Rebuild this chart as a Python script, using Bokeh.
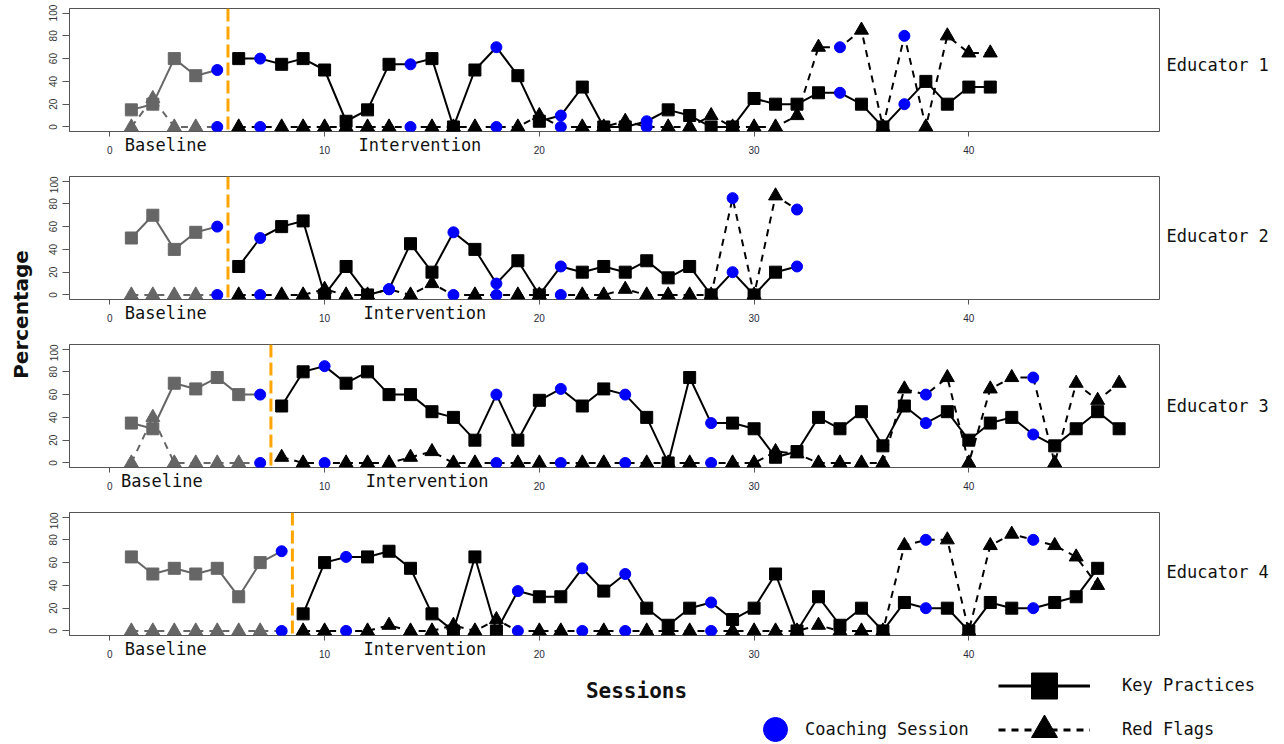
import numpy as np
from bokeh.plotting import figure
from bokeh.layouts import row, column
from bokeh.models import (ColumnDataSource, Span, Label, Legend, LegendItem,
                          FixedTicker, Range1d, LinearAxis)
from bokeh.embed import file_html
from bokeh.resources import INLINE

# ---------------- data ----------------
educator_names = ["Educator 1", "Educator 2", "Educator 3", "Educator 4"]

kp_edu1 = [15, 20, 60, 45, 50, 60, 60, 55, 60, 50, 5, 15, 55, 55, 60, 0, 50, 70, 45, 5,
           10, 35, 0, 0, 5, 15, 10, 0, 0, 25, 20, 20, 30, 30, 20, 0, 20, 40, 20, 35, 35]
rf_edu1 = [0, 25, 0, 0, 0, 0, 0, 0, 0, 0, 0, 0, 0, 0, 0, 0, 0, 0, 0, 10,
           0, 0, 0, 5, 0, 0, 0, 10, 0, 0, 0, 10, 70, 70, 85, 0, 80, 0, 80, 65, 65]
coach_edu1 = [5, 7, 14, 18, 21, 25, 34, 37]

kp_edu2 = [50, 70, 40, 55, 60, 25, 50, 60, 65, 0, 25, 0, 5, 45, 20, 55, 40, 10, 30, 0,
           25, 20, 25, 20, 30, 15, 25, 0, 20, 0, 20, 25]
rf_edu2 = [0, 0, 0, 0, 0, 0, 0, 0, 0, 5, 0, 0, 5, 0, 10, 0, 0, 0, 0, 0,
           0, 0, 0, 5, 0, 0, 0, 0, 85, 0, 87, 75]
coach_edu2 = [5, 7, 13, 16, 18, 21, 29, 32]

kp_edu3 = [35, 30, 70, 65, 75, 60, 60, 50, 80, 85, 70, 80, 60, 60, 45, 40, 20, 60, 20, 55,
           65, 50, 65, 60, 40, 0, 75, 35, 35, 30, 5, 10, 40, 30, 45, 15, 50, 35, 45, 20,
           35, 40, 25, 15, 30, 45, 30]
rf_edu3 = [0, 40, 0, 0, 0, 0, 0, 5, 0, 0, 0, 0, 0, 5, 10, 0, 0, 0, 0, 0,
           0, 0, 0, 0, 0, 0, 0, 0, 0, 0, 10, 8, 0, 0, 0, 0, 65, 60, 75, 0,
           65, 75, 75, 0, 70, 55, 70]
coach_edu3 = [7, 10, 18, 21, 24, 28, 38, 43]

kp_edu4 = [65, 50, 55, 50, 55, 30, 60, 70, 15, 60, 65, 65, 70, 55, 15, 0, 65, 0, 35, 30,
           30, 55, 35, 50, 20, 5, 20, 25, 10, 20, 50, 0, 30, 5, 20, 0, 25, 20, 20, 0,
           25, 20, 20, 25, 30, 55]
rf_edu4 = [0, 0, 0, 0, 0, 0, 0, 0, 0, 0, 0, 0, 5, 0, 0, 5, 0, 10, 0, 0,
           0, 0, 0, 0, 0, 0, 0, 0, 0, 0, 0, 0, 5, 0, 0, 0, 75, 80, 80, 0,
           75, 85, 80, 75, 65, 40]
coach_edu4 = [8, 11, 19, 22, 24, 28, 38, 43]

phase_change = [5.5, 5.5, 7.5, 8.5]
phase_names = ["Baseline", "Intervention"]
x_ticks = [0, 10, 20, 30, 40]
y_ticks = [0, 20, 40, 60, 80, 100]
legend_labels = ["Key Practices", "Red Flags", "Coaching Session"]
x_title = "Sessions"
y_title = "Percentage"

# label anchor positions (layout only)
baseline_label_x = [2.6, 2.6, 2.42, 2.6]
intervention_label_x = [14.44, 14.67, 14.77, 14.67]

# ---------------- styling / geometry ----------------
GRAY = "#666666"
BLUE = "#0000FF"
BOX = "#555555"
MONO = "DejaVu Sans Mono"

LEFT_W = 40
BL = 29
FRAME_W = 1090
BR = 1
PW = BL + FRAME_W + BR          # 1120
RIGHT_W = 123
heights = [176, 168, 168, 153]
top_borders = [8, 0, 0, 0]
bottom_borders = [45, 45, 45, 30]
TOP_H = sum(heights)             # 665
BOTTOM_H = 77
TOTAL_W = LEFT_W + PW + RIGHT_W
edu_label_y = [601, 430, 260, 94]   # screen px from bottom of right strip

series = [
    (kp_edu1, rf_edu1, coach_edu1),
    (kp_edu2, rf_edu2, coach_edu2),
    (kp_edu3, rf_edu3, coach_edu3),
    (kp_edu4, rf_edu4, coach_edu4),
]

panels = []
for i, (kp, rf, coach) in enumerate(series):
    p = figure(width=PW, height=heights[i], x_range=Range1d(-1.88, 48.88),
               y_range=Range1d(-4, 104), output_backend="svg", toolbar_location=None,
               min_border_left=BL, min_border_right=BR, min_border_top=top_borders[i],
               min_border_bottom=bottom_borders[i])
    p.xgrid.visible = False
    p.ygrid.visible = False
    p.outline_line_color = BOX
    p.outline_line_width = 1

    p.xaxis.ticker = FixedTicker(ticks=x_ticks)
    p.xaxis.axis_line_color = None
    p.xaxis.major_tick_line_color = BOX
    p.xaxis.major_tick_out = 5
    p.xaxis.major_tick_in = 0
    p.xaxis.minor_tick_line_color = None
    p.xaxis.major_label_standoff = 9
    p.xaxis.major_label_text_font = "Liberation Sans"
    p.xaxis.major_label_text_font_size = "10px"
    p.xaxis.major_label_text_color = "#2a2a3a"

    p.yaxis.ticker = FixedTicker(ticks=y_ticks)
    p.yaxis.axis_line_color = BOX
    p.yaxis.major_tick_line_color = BOX
    p.yaxis.major_tick_out = 7
    p.yaxis.major_tick_in = 0
    p.yaxis.minor_tick_line_color = None
    p.yaxis.major_label_orientation = "vertical"
    p.yaxis.major_label_standoff = 5
    p.yaxis.major_label_text_font = "Liberation Sans"
    p.yaxis.major_label_text_font_size = "10px"
    p.yaxis.major_label_text_color = "#333333"

    # phase names as a second, tick-less axis below the numeric one
    bx, ix = baseline_label_x[i], intervention_label_x[i]
    phase_axis = LinearAxis(ticker=FixedTicker(ticks=[bx, ix]),
                            major_label_overrides={bx: phase_names[0], ix: phase_names[1]},
                            axis_line_color=None, major_tick_line_color=None,
                            minor_tick_line_color=None, major_tick_out=0, major_tick_in=0,
                            major_label_standoff=-22, major_label_text_font=MONO,
                            major_label_text_font_size="17px",
                            major_label_text_color="#111111")
    p.add_layout(phase_axis, "below")

    s = np.arange(1, len(kp) + 1)
    kp_a = np.array(kp, dtype=float)
    rf_a = np.array(rf, dtype=float)
    is_c = np.isin(s, coach)
    ph = phase_change[i]

    for mask, col in [(s < ph, GRAY), (s > ph, "black")]:
        p.line(s[mask], rf_a[mask], line_color=col, line_width=2, line_dash="7 6")
        m2 = mask & ~is_c
        p.scatter(s[m2], rf_a[m2], marker="triangle", size=14, color=col)
        p.line(s[mask], kp_a[mask], line_color=col, line_width=2)
        p.scatter(s[m2], kp_a[m2], marker="square", size=12, color=col)

    p.scatter(s[is_c], kp_a[is_c], marker="circle", size=11, color=BLUE)
    p.scatter(s[is_c], rf_a[is_c], marker="circle", size=11, color=BLUE)

    p.add_layout(Span(location=ph, dimension="height", line_color="#FFA500",
                      line_width=3, line_dash="13 5"))
    panels.append(p)


def blank(w, h, yr=(0, 1)):
    f = figure(width=w, height=h, x_range=Range1d(0, 1), y_range=Range1d(*yr),
               x_axis_type=None, y_axis_type=None, output_backend="svg",
               toolbar_location=None, min_border=0)
    f.grid.visible = False
    f.outline_line_color = None
    return f

# ---------------- left strip: y title ----------------
pl = blank(LEFT_W, TOP_H)
pl.add_layout(Label(x=20, y=351, x_units="screen", y_units="screen", text=y_title,
                    angle=np.pi / 2, text_font="DejaVu Sans", text_font_style="bold",
                    text_font_size="20px", text_align="center", text_baseline="middle",
                    text_color="#111111"))

# ---------------- right strip: educator names ----------------
pr = blank(RIGHT_W, TOP_H)
for name, yy in zip(educator_names, edu_label_y):
    pr.add_layout(Label(x=6, y=yy, x_units="screen", y_units="screen", text=name,
                        text_font=MONO, text_font_size="17px", text_align="left",
                        text_baseline="middle", text_color="#111111"))

# ---------------- bottom strip: x title + legend ----------------
pb = blank(TOTAL_W, BOTTOM_H, yr=(-1000, -999))   # data kept off-view: legend swatches only
pb.add_layout(Label(x=636, y=52, x_units="screen", y_units="screen", text=x_title,
                    text_font=MONO, text_font_style="bold", text_font_size="21px",
                    text_align="center", text_baseline="middle", text_color="#111111"))

sess4 = list(range(1, len(kp_edu4) + 1))
src = ColumnDataSource(dict(x=sess4, kp=kp_edu4, rf=rf_edu4))
kp_line = pb.line("x", "kp", source=src, line_color="black", line_width=3)
kp_mark = pb.scatter("x", "kp", source=src, marker="square", color="black")
rf_line = pb.line("x", "rf", source=src, line_color="black", line_width=3, line_dash="7 6")
rf_mark = pb.scatter("x", "rf", source=src, marker="triangle", color="black")
co_mark = pb.scatter("x", "kp", source=src, marker="circle", color=BLUE)


def make_legend(label, renderers, loc, gw, gh, standoff):
    return Legend(items=[LegendItem(label=label, renderers=renderers)], location=loc,
                  glyph_width=gw, glyph_height=gh, label_standoff=standoff,
                  padding=0, margin=0, spacing=0, border_line_color=None,
                  background_fill_alpha=0, label_text_font=MONO,
                  label_text_font_size="17px", label_text_color="#111111")

pb.add_layout(make_legend(legend_labels[0], [kp_line, kp_mark], (998, 24.5), 92, 65, 32))
pb.add_layout(make_legend(legend_labels[1], [rf_line, rf_mark], (998, -19.5), 92, 65, 32))
pb.add_layout(make_legend(legend_labels[2], [co_mark], (745, -17), 60, 60, 0))

layout = column(row(pl, column(*panels, spacing=0), pr, spacing=0), pb, spacing=0)

open("out.html", "w").write(file_html(layout, INLINE))
